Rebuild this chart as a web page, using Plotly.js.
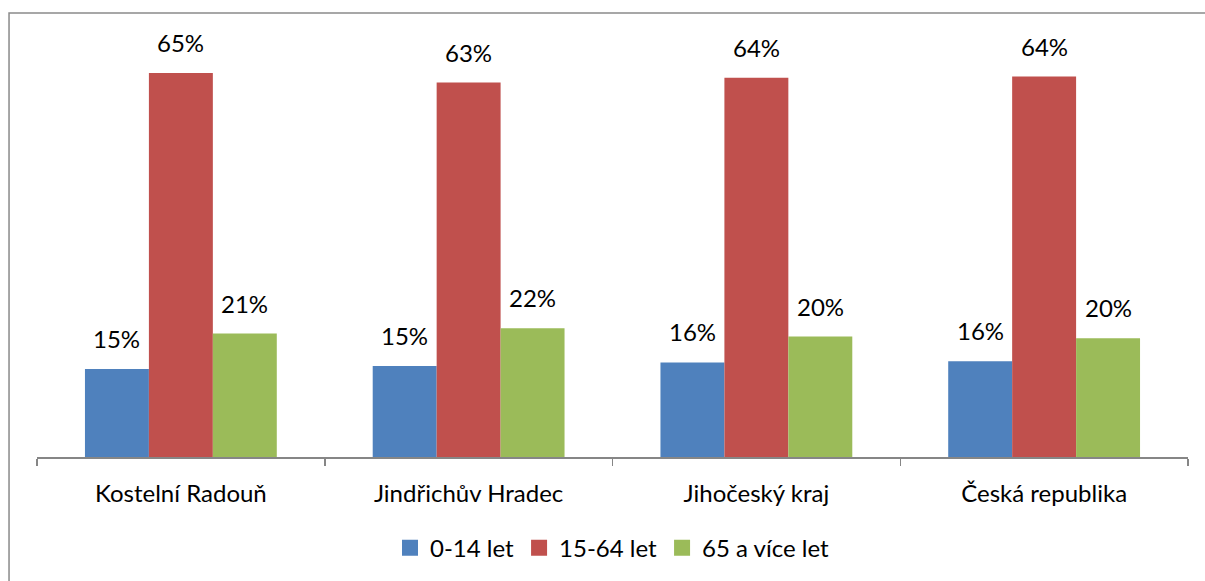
<!DOCTYPE html>
<html>
<head>
<meta charset="utf-8">
<script src="https://cdn.plot.ly/plotly-3.0.1.min.js"></script>
<style>html,body{margin:0;padding:0;background:#fff;}#chart{width:1205px;height:581px;}</style>
</head>
<body>
<div id="chart"></div>
<script>
const categories = ["Kostelní Radouň", "Jindřichův Hradec", "Jihočeský kraj", "Česká republika"];
const seriesNames = ["0-14 let", "15-64 let", "65 a více let"];
const age0_14 = [0.149, 0.154, 0.160, 0.162];
const age15_64 = [0.650, 0.634, 0.642, 0.644];
const age65plus = [0.209, 0.218, 0.204, 0.201];
const colors = ["#4F81BD", "#C0504D", "#9BBB59"];

const seriesValues = [age0_14, age15_64, age65plus];
const FONT = "Lato, 'Noto Sans', sans-serif";
const FS = 24;

const traces = seriesValues.map((vals, s) => ({
  type: "bar",
  name: seriesNames[s],
  x: categories,
  y: vals,
  marker: { color: colors[s], line: { width: 0 } },
  showlegend: false,
  hoverinfo: "skip"
}));

// legend entries with square swatches
seriesNames.forEach((n, s) => {
  traces.push({
    type: "scatter", mode: "markers", name: n,
    x: [null], y: [null],
    marker: { symbol: "square", size: 16, color: colors[s] },
    showlegend: true, hoverinfo: "skip"
  });
});

const annotations = [];
seriesValues.forEach((vals, s) => {
  vals.forEach((v, i) => {
    annotations.push({
      x: i + (s - 1) * (2 / 9),
      y: v,
      xref: "x", yref: "y",
      text: Math.round(v * 100) + "%",
      showarrow: false,
      yanchor: "bottom",
      yshift: 14,
      font: { family: FONT, size: FS, color: "#000" }
    });
  });
});

const layout = {
  width: 1205, height: 581,
  margin: { l: 37, r: 17, t: 14, b: 123 },
  paper_bgcolor: "#fff", plot_bgcolor: "#fff",
  barmode: "group",
  bargap: 1 / 3,
  bargroupgap: 0,
  font: { family: FONT, size: FS, color: "#000" },
  showlegend: true,
  legend: {
    orientation: "h",
    x: 0.5, xanchor: "center",
    y: -0.203, yanchor: "middle",
    font: { family: FONT, size: FS, color: "#000" },
    itemwidth: 30,
    traceorder: "normal"
  },
  xaxis: {
    type: "category",
    showline: true, linecolor: "#868686", linewidth: 1.5,
    ticks: "outside", tickson: "boundaries", ticklen: 7, tickcolor: "#868686", tickwidth: 1.5,
    ticklabelstandoff: 15,
    tickfont: { family: FONT, size: FS, color: "#000" },
    showgrid: false, zeroline: false, fixedrange: true
  },
  yaxis: {
    range: [0, 0.75],
    visible: false, showgrid: false, zeroline: false, fixedrange: true
  },
  annotations: annotations,
  shapes: [{
    type: "rect", xref: "paper", yref: "paper",
    x0: -0.0243, x1: 1.05, y0: -0.6, y1: 1.0023,
    line: { color: "#8a8a8a", width: 1.5 },
    fillcolor: "rgba(0,0,0,0)",
    layer: "above"
  }]
};

Plotly.newPlot("chart", traces, layout, { displayModeBar: false, staticPlot: true });
</script>
</body>
</html>
